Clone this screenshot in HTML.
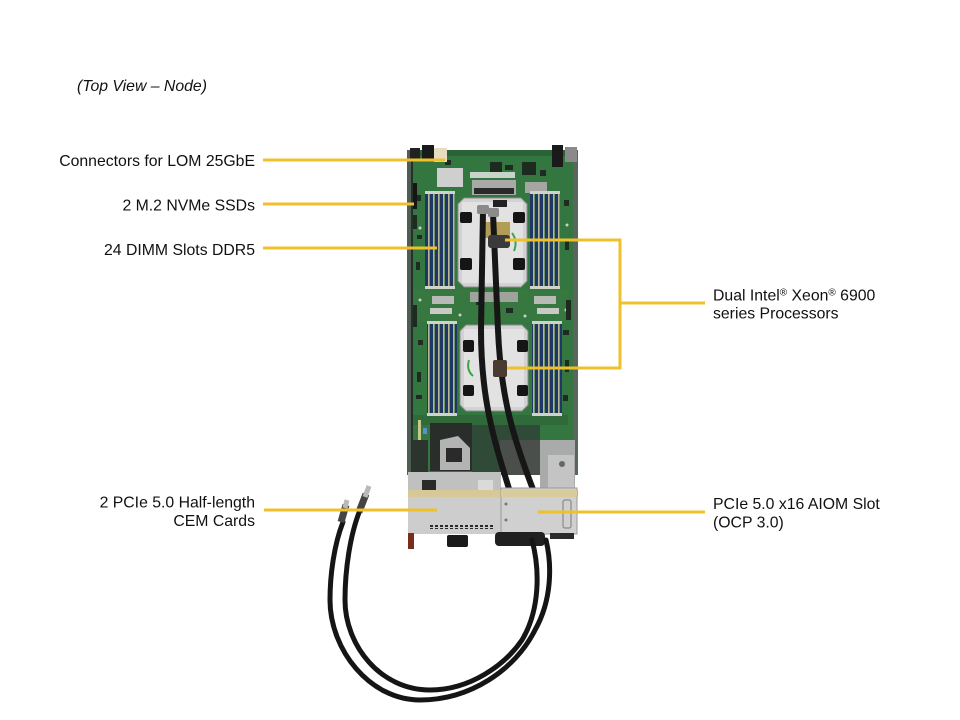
<!DOCTYPE html>
<html><head><meta charset="utf-8"><style>
html,body{margin:0;padding:0;background:#fff;}
svg{display:block;}
text{font-family:"Liberation Sans",Arial,sans-serif;font-size:15.8px;fill:#111;}
</style></head><body>
<svg width="960" height="720" viewBox="0 0 960 720" xmlns="http://www.w3.org/2000/svg">
<defs>
 <pattern id="dimm" x="0" y="0" width="5" height="10" patternUnits="userSpaceOnUse">
  <rect width="5" height="10" fill="#2e6a3a"/>
  <rect x="0" width="3.2" height="10" fill="#1e3766"/>
  <rect x="3.2" width="1.2" height="10" fill="#d9d1a8"/>
 </pattern>
 <pattern id="vent" x="0" y="0" width="5" height="4" patternUnits="userSpaceOnUse">
  <rect width="3" height="3" fill="#2a2a2a"/>
 </pattern>
</defs>
<rect width="960" height="720" fill="#fff"/>

<!-- title -->
<text x="77" y="91" font-style="italic">(Top View – Node)</text>

<!-- labels left -->
<text x="255" y="166" text-anchor="end">Connectors for LOM 25GbE</text>
<text x="255" y="210.5" text-anchor="end">2 M.2 NVMe SSDs</text>
<text x="255" y="255" text-anchor="end">24 DIMM Slots DDR5</text>
<text x="255" y="507.5" text-anchor="end">2 PCIe 5.0 Half-length</text>
<text x="255" y="526" text-anchor="end">CEM Cards</text>

<!-- labels right -->
<text x="713" y="300.5">Dual Intel<tspan font-size="10" dy="-5">®</tspan><tspan dy="5"> Xeon</tspan><tspan font-size="10" dy="-5">®</tspan><tspan dy="5"> 6900</tspan></text>
<text x="713" y="318.5">series Processors</text>
<text x="713" y="509">PCIe 5.0 x16 AIOM Slot</text>
<text x="713" y="527.5">(OCP 3.0)</text>

<!-- ===== board ===== -->
<g>
 <!-- pcb -->
 <rect x="407" y="150" width="171" height="325" fill="#337640"/>
 <rect x="407" y="150" width="5" height="325" fill="#4f5e52"/>
 <rect x="411" y="150" width="2" height="325" fill="#26302a"/>
 <rect x="573" y="150" width="5" height="325" fill="#5a665c"/>
 <rect x="412" y="150" width="161" height="6" fill="#2a6335"/>
 <!-- darker patches -->
 <rect x="413" y="290" width="155" height="32" fill="#36783f"/>
 <rect x="413" y="415" width="155" height="10" fill="#306a3a"/>

 <!-- small component clutter -->
 <g fill="#1f2a22">
  <rect x="417" y="195" width="4" height="6"/><rect x="417" y="235" width="5" height="4"/>
  <rect x="416" y="262" width="4" height="8"/><rect x="418" y="340" width="5" height="5"/>
  <rect x="417" y="372" width="4" height="10"/><rect x="416" y="395" width="6" height="4"/>
  <rect x="564" y="200" width="5" height="6"/><rect x="565" y="240" width="4" height="10"/>
  <rect x="563" y="330" width="6" height="5"/><rect x="565" y="360" width="4" height="12"/>
  <rect x="563" y="395" width="5" height="6"/><rect x="445" y="160" width="6" height="5"/>
  <rect x="505" y="165" width="8" height="5"/><rect x="540" y="170" width="6" height="6"/>
  <rect x="476" y="300" width="6" height="5"/><rect x="506" y="308" width="7" height="5"/>
 </g>
 <g fill="#c9d2c6">
  <circle cx="420" cy="228" r="1.5"/><circle cx="567" cy="225" r="1.5"/>
  <circle cx="420" cy="300" r="1.5"/><circle cx="566" cy="310" r="1.5"/>
  <circle cx="483" cy="174" r="1.5"/><circle cx="490" cy="174" r="1.5"/><circle cx="497" cy="174" r="1.5"/>
  <circle cx="460" cy="315" r="1.5"/><circle cx="525" cy="316" r="1.5"/>
 </g>

 <!-- top connectors -->
 <rect x="410" y="148" width="10" height="13" fill="#222"/>
 <rect x="422" y="145" width="12" height="16" fill="#1a1a1a"/>
 <rect x="434" y="148" width="13" height="14" fill="#e6dcc2"/>
 <rect x="552" y="145" width="11" height="22" fill="#1a1a1a"/>
 <rect x="565" y="147" width="12" height="15" fill="#8a8a8a"/>
 <!-- top components -->
 <rect x="437" y="168" width="26" height="19" fill="#cfcfcf"/>
 <rect x="490" y="162" width="12" height="11" fill="#1d2a20"/>
 <rect x="522" y="162" width="14" height="13" fill="#1d2a20"/>
 <rect x="470" y="172" width="45" height="6" fill="#c8d4ca"/>
 <rect x="472" y="180" width="44" height="15" fill="#a9aaa8"/>
 <rect x="474" y="188" width="40" height="6" fill="#2a2a2a"/>
 <rect x="525" y="182" width="22" height="11" fill="#a5a6a4"/>
 <rect x="413" y="183" width="4" height="26" fill="#151515"/>
 <rect x="413" y="215" width="4" height="14" fill="#1d2a20"/>

 <!-- DIMM banks -->
 <rect x="425" y="193" width="30" height="94" fill="url(#dimm)"/>
 <rect x="530" y="193" width="30" height="94" fill="url(#dimm)"/>
 <rect x="427" y="323" width="30" height="91" fill="url(#dimm)"/>
 <rect x="532" y="323" width="30" height="91" fill="url(#dimm)"/>
 <rect x="425" y="191" width="30" height="3" fill="#cfd3c8"/>
 <rect x="530" y="191" width="30" height="3" fill="#cfd3c8"/>
 <rect x="425" y="286" width="30" height="3" fill="#cfd3c8"/>
 <rect x="530" y="286" width="30" height="3" fill="#cfd3c8"/>
 <rect x="427" y="321" width="30" height="3" fill="#cfd3c8"/>
 <rect x="532" y="321" width="30" height="3" fill="#cfd3c8"/>
 <rect x="427" y="413" width="30" height="3" fill="#cfd3c8"/>
 <rect x="532" y="413" width="30" height="3" fill="#cfd3c8"/>

 <!-- mid components -->
 <rect x="432" y="296" width="22" height="8" fill="#b8bab5"/>
 <rect x="534" y="296" width="22" height="8" fill="#b8bab5"/>
 <rect x="470" y="292" width="48" height="10" fill="#9ea39c"/>
 <rect x="430" y="308" width="22" height="6" fill="#c8cbc4"/>
 <rect x="537" y="308" width="22" height="6" fill="#c8cbc4"/>
 <rect x="413" y="305" width="4" height="22" fill="#1d2a20"/>
 <rect x="566" y="300" width="5" height="20" fill="#1d2a20"/>

 <!-- CPU1 heatsink -->
 <path d="M464,198 L521,198 L527,204 L527,281 L521,287 L464,287 L458,281 L458,204 Z" fill="#d2d2d2" stroke="#8e8e8e" stroke-width="1"/>
 <rect x="462" y="202" width="61" height="81" fill="#e2e2e2"/>
 <rect x="460" y="212" width="12" height="11" rx="2" fill="#151515"/>
 <rect x="513" y="212" width="12" height="11" rx="2" fill="#151515"/>
 <rect x="460" y="258" width="12" height="12" rx="2" fill="#151515"/>
 <rect x="513" y="258" width="12" height="12" rx="2" fill="#151515"/>
 <rect x="493" y="200" width="14" height="7" fill="#222"/>
 <rect x="485" y="222" width="25" height="16" fill="#b39c55"/>
 <path d="M512,233 q6,8 2,18" stroke="#3fa34d" stroke-width="2" fill="none"/>

 <!-- CPU2 heatsink -->
 <path d="M466,325 L522,325 L528,331 L528,405 L522,411 L466,411 L460,405 L460,331 Z" fill="#d2d2d2" stroke="#8e8e8e" stroke-width="1"/>
 <rect x="464" y="329" width="60" height="78" fill="#e2e2e2"/>
 <rect x="463" y="340" width="11" height="12" rx="2" fill="#151515"/>
 <rect x="517" y="340" width="11" height="12" rx="2" fill="#151515"/>
 <rect x="463" y="385" width="11" height="11" rx="2" fill="#151515"/>
 <rect x="517" y="385" width="11" height="11" rx="2" fill="#151515"/>
 <path d="M469,360 q-3,10 4,16" stroke="#3fa34d" stroke-width="2" fill="none"/>

 <!-- lower board area -->
 <rect x="430" y="423" width="42" height="48" fill="#2a2e2a"/>
 <path d="M440,440 L458,436 L470,448 L470,470 L440,470 Z" fill="#b3b3b3"/>
 <rect x="446" y="448" width="16" height="14" fill="#2a2a2a"/>
 <rect x="418" y="420" width="3" height="55" fill="#c9c58f"/>
 <rect x="423" y="428" width="4" height="6" fill="#5a8fd0"/>
 <rect x="472" y="425" width="68" height="50" fill="#2f4a36"/>
 <rect x="500" y="440" width="45" height="35" fill="#4b4f4c"/>
 <rect x="540" y="440" width="35" height="50" fill="#a9abab"/>
 <rect x="548" y="455" width="26" height="36" fill="#c4c4c4"/>
 <circle cx="562" cy="464" r="3" fill="#666"/>
 <rect x="412" y="440" width="16" height="32" fill="#2b342d"/>

 <!-- CPU cables -->
 <path d="M483,210 L481,330 C481,400 494,440 510,492" stroke="#161616" stroke-width="6" fill="none"/>
 <path d="M493,213 L498,330 C501,400 514,440 534,492" stroke="#161616" stroke-width="6" fill="none"/>
 <rect x="477" y="205" width="12" height="9" rx="2" fill="#8a8a8a"/>
 <rect x="488" y="208" width="11" height="9" rx="2" fill="#8a8a8a"/>
 <rect x="488" y="235" width="22" height="13" rx="3" fill="#3a3a3a"/>
 <rect x="493" y="360" width="14" height="17" rx="2" fill="#4a3a30"/>

 <!-- left card bracket -->
 <rect x="408" y="472" width="93" height="62" fill="#c6c6c6"/>
 <rect x="408" y="472" width="93" height="18" fill="#c0c0c0"/>
 <rect x="422" y="480" width="14" height="10" fill="#2a2a2a"/>
 <rect x="478" y="480" width="15" height="10" fill="#dadada"/>
 <rect x="408" y="490" width="170" height="7" fill="#d6c997"/>
 <rect x="408" y="497" width="93" height="37" fill="#cdcdcd"/>
 <rect x="430" y="525" width="65" height="4" fill="url(#vent)"/>
 <!-- right card -->
 <rect x="501" y="488" width="76" height="46" fill="#d0d0d0" stroke="#9a9a9a" stroke-width="1"/>
 <rect x="501" y="490" width="76" height="7" fill="#d8cc9c"/>
 <rect x="563" y="500" width="8" height="28" rx="2" fill="none" stroke="#8a8a8a" stroke-width="1.2"/>
 <circle cx="506" cy="504" r="1.5" fill="#777"/>
 <circle cx="506" cy="520" r="1.5" fill="#777"/>
 <!-- bottom bits -->
 <rect x="408" y="533" width="6" height="16" fill="#7b2d1c"/>
 <rect x="447" y="535" width="21" height="12" rx="2" fill="#1a1a1a"/>
 <rect x="495" y="532" width="50" height="14" rx="4" fill="#202020"/>
 <rect x="550" y="533" width="24" height="6" fill="#2a2a2a"/>
</g>

<!-- hoses -->
<g fill="none" stroke="#151515" stroke-width="5" stroke-linecap="round">
 <path d="M343,522 C334,545 330,575 330,600 C330,650 370,700 420,700 C470,700 515,670 535,630 C552,600 552,565 546,540"/>
 <path d="M360,510 C350,535 345,570 345,600 C345,645 380,690 430,690 C470,690 505,665 522,640 C540,610 540,570 532,540"/>
</g>
<!-- hose fittings -->
<g>
 <path d="M341,522 L346,505" stroke="#444" stroke-width="7"/>
 <path d="M345,508 L347,500" stroke="#b9b9b9" stroke-width="5"/>
 <path d="M359,512 L366,494" stroke="#444" stroke-width="7"/>
 <path d="M365,497 L369,486" stroke="#b9b9b9" stroke-width="5"/>
</g>

<!-- callout lines -->
<g stroke="#f0c02c" stroke-width="3" fill="none">
 <line x1="263" y1="160" x2="445" y2="160"/>
 <line x1="263" y1="204" x2="414" y2="204"/>
 <line x1="263" y1="248" x2="437" y2="248"/>
 <polyline points="505,240 620,240 620,368 507,368"/>
 <line x1="620" y1="303" x2="705" y2="303"/>
 <line x1="264" y1="510" x2="437" y2="510"/>
 <line x1="538" y1="512" x2="705" y2="512"/>
</g>
</svg>
</body></html>
